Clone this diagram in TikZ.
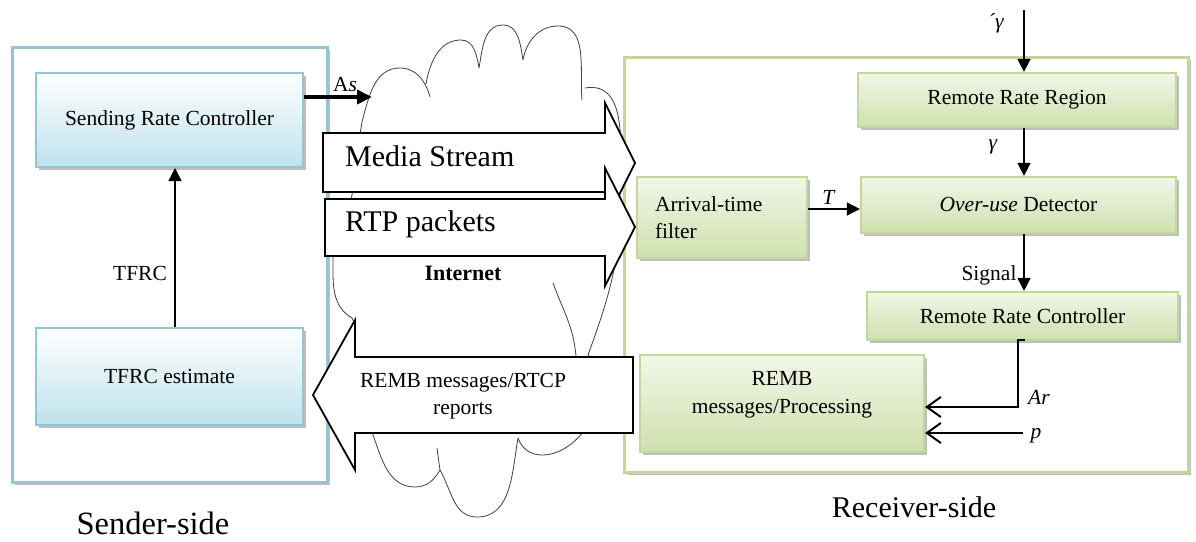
\documentclass[tikz,border=0pt]{standalone}
\usepackage{fontspec}
\setmainfont{Liberation Serif}
\usetikzlibrary{arrows.meta,shadows}
\definecolor{bluebd}{HTML}{93C6D4}
\definecolor{bluebt}{HTML}{BFE1EB}
\definecolor{greenbd}{HTML}{C3D69B}
\definecolor{greenbt}{HTML}{CFE0AE}
\definecolor{greentp}{HTML}{F1F6E8}
\newcommand\bxfont{\fontsize{21.5}{27.5}\selectfont}
\newcommand\bigafont{\fontsize{30}{34}\selectfont}
\newcommand\ttlfont{\fontsize{30}{34}\selectfont}
\newcommand\sttlfont{\fontsize{32.5}{36}\selectfont}
\tikzset{
  shd/.style={drop shadow={shadow xshift=3pt,shadow yshift=-3pt,fill=black!45,opacity=0.55}},
  bluebox/.style={rectangle, draw=bluebd, line width=2pt, top color=white, bottom color=bluebt, shd, inner sep=0pt, font=\bxfont, align=center},
  greenbox/.style={rectangle, draw=greenbd, line width=2.2pt, top color=greentp, bottom color=greenbt, shd, inner sep=0pt, font=\bxfont, align=center},
  outerblue/.style={rectangle, draw=bluebd, line width=3pt, fill=white, shd, inner sep=0pt},
  outergreen/.style={rectangle, draw=greenbd, line width=3pt, fill=white, shd, inner sep=0pt},
  farr/.style={-{Triangle[length=13pt,width=13pt]}, line width=1.4pt},
  oarr/.style={-{Straight Barb[length=14pt,width=20pt,line width=2pt]}},
  bigarrow/.style={draw=black, line width=1.8pt, fill=white, line join=miter},
  cloudline/.style={draw=black!75, line width=0.8pt},
  lbl/.style={font=\bxfont, inner sep=0pt},
}
\begin{document}
\begin{tikzpicture}[x=1pt,y=1pt]
\useasboundingbox (0,0) rectangle (1196,-541);
% outer boxes
\node[outerblue, minimum width=315pt, minimum height=435pt] (sender) at (169.5,-264.5) {};
\node[outergreen, minimum width=564pt, minimum height=415pt] (receiver) at (906,-264.5) {};
% cloud
\path[cloudline, fill=white]
  (362,-122) to[out=75,in=180] (400,-68) to[out=0,in=105] (430,-97)
  (426,-84) to[out=80,in=180] (461,-40) to[out=0,in=100] (479,-68)
  (479,-68) to[out=80,in=180] (503,-25) to[out=0,in=100] (523,-60)
  (523,-60) to[out=80,in=180] (558,-26) to[out=0,in=95] (582,-100)
  (585,-88) to[out=10,in=90] (620,-200) to[out=-90,in=70] (588,-355)
  (588,-355) to[out=-40,in=0] (542,-455) to[out=180,in=-70] (518,-438)
  (518,-438) to[out=-100,in=0] (477,-517) to[out=180,in=-60] (440,-470)
  (440,-470) to[out=-120,in=0] (415,-487) to[out=180,in=-70] (372,-432)
  (372,-432) to[out=150,in=-90] (342,-380) to[out=90,in=-60] (352,-318)
  (352,-318) to[out=150,in=-90] (333,-260) to[out=90,in=-100] (352,-195)
  to[out=80,in=-100] (362,-122);
\path[cloudline] (553,-283) to[out=-70,in=95] (576,-356);
\path[cloudline] (437,-448) -- (440,-470);
% sender boxes
\node[bluebox, minimum width=267pt, minimum height=94pt] (src) at (169.5,-120) {Sending Rate Controller};
\node[bluebox, minimum width=267pt, minimum height=97pt] (tfrc) at (169.5,-376.5) {TFRC estimate};
% receiver boxes
\node[greenbox, minimum width=318pt, minimum height=54pt] (rrr) at (1017,-100) {Remote Rate Region};
\node[greenbox, minimum width=315pt, minimum height=56pt] (oud) at (1018.5,-205) {\textit{Over-use} Detector};
\node[greenbox, minimum width=311pt, minimum height=48pt] (rrc) at (1022.5,-316) {Remote Rate Controller};
\node[greenbox, minimum width=170pt, minimum height=81pt, text width=134pt, inner xsep=18pt, align=left] (atf) at (722,-217.5) {Arrival-time\\filter};
\node[greenbox, minimum width=284pt, minimum height=97pt] (remb) at (782,-403.5) {};
\node[lbl, align=center] (rembtxt) at (782,-395) {REMB\\messages/Processing};
% big arrows
\path[bigarrow] (323,-133) -- (605,-133) -- (605,-103) -- (635,-163) -- (605,-223) -- (605,-192) -- (323,-192) -- cycle;
\path[bigarrow] (325,-199) -- (605,-199) -- (605,-168) -- (635,-227) -- (605,-286) -- (605,-256) -- (325,-256) -- cycle;
\path[bigarrow] (633,-357) -- (355,-357) -- (355,-320) -- (313,-395) -- (355,-470) -- (355,-433) -- (633,-433) -- cycle;
\node[font=\bigafont, anchor=base west, inner sep=0pt] (media) at (345,-166) {Media Stream};
\node[font=\bigafont, anchor=base west, inner sep=0pt] (rtp) at (345,-231) {RTP packets};
\node[lbl, font=\fontsize{22}{26}\selectfont\bfseries] (inet) at (463,-273) {Internet};
\node[lbl, align=center] (rembarrow) at (463,-396) {REMB messages/RTCP\\reports};
% connectors
\draw[farr] ([xshift=5.5pt]tfrc.north) -- ([xshift=5.5pt]src.south);
\node[lbl] (tfrcl) at (140,-273) {TFRC};
\coordinate (cloudin) at (372,-97);
\draw[line width=4pt, -{Triangle[length=15pt,width=14pt]}] ([yshift=23pt]src.east) -- (cloudin);
\node[lbl] (asl) at (345,-85) {A\textit{s}};
\coordinate (gtop) at (1024,-10);
\draw[farr] (gtop) -- (gtop |- rrr.north);
\node[lbl] (g1) at (996,-23) {\textit{´γ}};
\draw[farr] (rrr.south -| gtop) -- (oud.north -| gtop);
\node[lbl] (g2) at (993,-147) {\textit{γ}};
\draw[farr] (oud.south -| gtop) -- (rrc.north -| gtop);
\node[lbl] (sig) at (989,-275) {Signal};
\draw[farr] ([yshift=8.5pt]atf.east) -- ([yshift=8.5pt]atf.east -| oud.west);
\node[lbl] (tl) at (829,-197) {\textit{T}};
\coordinate (arstart) at (1018,-340);
\draw[oarr, line width=2.5pt] ([xshift=7pt]arstart) -- (arstart) |- ([yshift=-3.5pt]remb.east);
\node[lbl] (arl) at (1039,-397) {\textit{Ar}};
\coordinate (pin) at (1023,-433);
\draw[oarr, line width=2pt] (pin) -- (pin -| remb.east);
\node[lbl] (pl) at (1036,-436) {\textit{p}};
% titles
\node[font=\sttlfont, inner sep=0pt] (sst) at (153,-523) {Sender-side};
\node[font=\ttlfont, inner sep=0pt] (rst) at (914,-507) {Receiver-side};
\end{tikzpicture}
\end{document}
